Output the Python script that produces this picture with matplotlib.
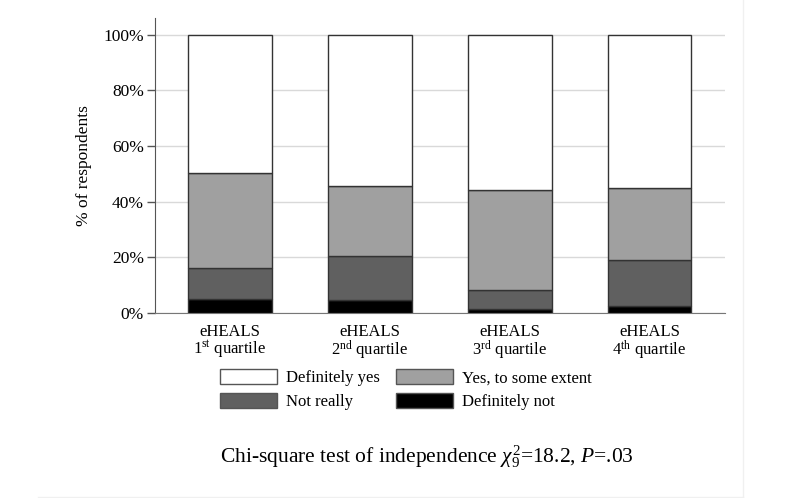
import matplotlib
matplotlib.use("Agg")
import matplotlib.pyplot as plt
from matplotlib.patches import Patch
from matplotlib.lines import Line2D
import numpy as np

plt.rcParams['font.family'] = ['Liberation Serif', 'DejaVu Serif']
plt.rcParams['mathtext.fontset'] = 'custom'
plt.rcParams['mathtext.rm'] = 'Liberation Serif'
plt.rcParams['mathtext.it'] = 'Liberation Serif:italic'
plt.rcParams['mathtext.bf'] = 'Liberation Serif:bold'

categories = ["eHEALS\n1$^{\\mathrm{st}}$ quartile",
              "eHEALS\n2$^{\\mathrm{nd}}$ quartile",
              "eHEALS\n3$^{\\mathrm{rd}}$ quartile",
              "eHEALS\n4$^{\\mathrm{th}}$ quartile"]
definitely_not = [4.9, 4.5, 1.4, 2.5]
not_really = [11.3, 15.9, 6.8, 16.5]
yes_some_extent = [34.2, 25.4, 36.0, 25.8]
definitely_yes = [49.6, 54.2, 55.8, 55.2]
y_ticks = [0, 20, 40, 60, 80, 100]
y_tick_labels = ["0%", "20%", "40%", "60%", "80%", "100%"]

W, H = 800, 498
fig = plt.figure(figsize=(W / 100, H / 100), dpi=100)
ax = fig.add_axes([155 / W, 1 - 313 / H, 570 / W, (313 - 18) / H])

x = np.arange(len(categories))
series = [
    (definitely_not, "#000000", "Definitely not"),
    (not_really, "#606060", "Not really"),
    (yes_some_extent, "#a0a0a0", "Yes, to some extent"),
    (definitely_yes, "#ffffff", "Definitely yes"),
]
bottom = np.zeros(len(x))
for vals, col, lab in series:
    ax.bar(x, vals, bottom=bottom, width=0.6, color=col, edgecolor="#333333",
           linewidth=1.0, label=lab, zorder=3)
    bottom += np.array(vals)

ax.set_xlim(-0.536, 3.54)
ax.set_ylim(0, 106)
ax.set_yticks(y_ticks)
ax.set_yticklabels(y_tick_labels, fontsize=12.5)
ax.yaxis.grid(True, color="#d9d9d9", linewidth=1.0, zorder=0)
ax.set_axisbelow(True)
ax.set_xticks(x)
ax.set_xticklabels(categories, fontsize=12, linespacing=0.9)
ax.tick_params(axis='x', length=0, pad=8)
ax.tick_params(axis='y', length=6, width=1, color="#555555", pad=2)
for s in ["top", "right"]:
    ax.spines[s].set_visible(False)
ax.spines["left"].set_color("#555555")
ax.spines["bottom"].set_color("#777777")
ax.set_ylabel("% of respondents", fontsize=12.5, labelpad=8)

handles = [
    Patch(facecolor="#ffffff", edgecolor="#555555", label="Definitely yes"),
    Patch(facecolor="#606060", edgecolor="#555555", label="Not really"),
    Patch(facecolor="#a0a0a0", edgecolor="#555555", label="Yes, to some extent"),
    Patch(facecolor="#000000", edgecolor="#555555", label="Definitely not"),
]
fig.legend(handles=handles, ncol=2, loc="upper left",
           bbox_to_anchor=(220 / W, 1 - 369 / H), frameon=False,
           fontsize=12, handlelength=3.42, handleheight=1.02,
           handletextpad=0.55, columnspacing=0.95, labelspacing=0.4,
           borderaxespad=0, borderpad=0)

fig.text(634 / W, 1 - 457 / H,
         "Chi-square test of independence $\\chi^{2}_{9}$=18.2, $\\mathit{P}$=.03",
         ha="right", va="center", fontsize=15.5)

fig.add_artist(Line2D([743 / W, 743 / W], [0, 1], transform=fig.transFigure,
                      color="#f0f0f0", linewidth=1))
fig.add_artist(Line2D([38 / W, 743 / W], [1.5 / H, 1.5 / H], transform=fig.transFigure,
                      color="#f0f0f0", linewidth=1))

fig.savefig("out.png", dpi=100)
